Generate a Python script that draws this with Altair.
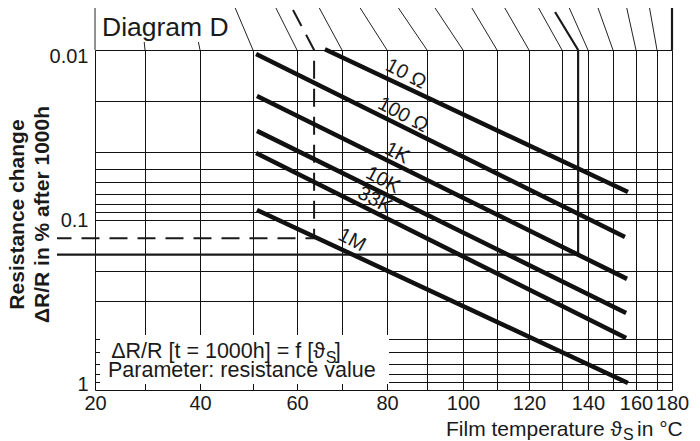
import altair as alt
import pandas as pd

FONT = "Liberation Sans"
INK = "#1a1a1a"
GRID = "#111"

# ---------------- data ----------------
x_grid = [20, 30, 40, 50, 60, 70, 80, 90, 100, 110, 120, 130, 140, 150, 160, 170, 180]
y_grid = [0.01, 0.02, 0.04, 0.05, 0.06, 0.07, 0.08, 0.09, 0.1,
          0.2, 0.3, 0.5, 0.6, 0.7, 0.8, 0.9, 1]

series = ["10 Ω", "100 Ω", "1K", "10K", "33K", "1M"]
t_start = [66.2, 50.7, 50.9, 50.9, 50.7, 50.9]
v_start = [0.0099, 0.01055, 0.01865, 0.0299, 0.0404, 0.0873]
t_end = [156.5, 155.2, 156.1, 155.7, 155.7, 156.5]
v_end = [0.0684, 0.126, 0.222, 0.352, 0.494, 0.909]
label_t = [84.75, 84.0, 82.5, 79.1, 77.3, 72.2]
label_v = [0.01384, 0.0241, 0.0404, 0.0582, 0.0763, 0.131]

# lines of the (cut off) diagram above: lower end on the frame, upper end
diag_t_low = [20, 30, 40, 50, 60, 70, 80, 90, 100, 110, 120, 130, 140, 150, 160, 170]
diag_t_high = [20, 29.0, 38.2, 46.0, 54.3, 64.0, 72.9, 81.5, 91.7, 102.1, 111.9, 122.4,
               132.3, 143.6, 155.7, 166.2]
diag_v_high = [0.00508] * 8 + [0.00544] * 8

# construction lines
dash_t = [59.1, 63.8, 63.8, 12.4]
dash_v = [0.00582, 0.01, 0.128, 0.128]
solid_t = [127.9, 136.2, 136.2, 12.4]
solid_v = [0.00598, 0.01, 0.16, 0.16]

# ---------------- frames ----------------
lines_df = pd.DataFrame({"name": series, "t0": t_start, "v0": v_start,
                         "t1": t_end, "v1": v_end})
labels_df = pd.DataFrame({"name": series, "t": label_t, "v": label_v})
diag_df = pd.DataFrame({"t0": diag_t_low, "v0": [0.01] * len(diag_t_low),
                        "t1": diag_t_high, "v1": diag_v_high})
right_df = pd.DataFrame({"t0": [180], "v0": [0.01], "t1": [180], "v1": [0.00508]})
dash_df = pd.DataFrame({"i": range(len(dash_t)), "t": dash_t, "v": dash_v})
solid_df = pd.DataFrame({"i": range(len(solid_t)), "t": solid_t, "v": solid_v})
boxes_df = pd.DataFrame({"t0": [20.2, 21.0], "t1": [46.5, 80.5],
                         "v0": [0.00566, 0.475], "v1": [0.00897, 0.922]})

xs = alt.Scale(domain=x_grid,
               range=[0, 50, 105, 158, 202, 247, 292, 332, 368, 402, 434, 467, 493,
                      518, 541, 562, 577],
               nice=False, zero=False)
ys = alt.Scale(type="log", domain=[0.01, 1], range=[0, 340], nice=False)

x_axis = alt.Axis(values=x_grid, labelExpr="datum.value % 20 == 0 ? datum.label : ''",
                  grid=True, gridColor=GRID, gridWidth=1, ticks=False, domain=False,
                  title=None, labelFont=FONT, labelFontSize=20, labelColor=INK,
                  labelPadding=3, labelFlush=False, labelOverlap=False)
y_axis = alt.Axis(values=y_grid, format="~g",
                  labelExpr="datum.value == 0.01 || datum.value == 0.1 || datum.value == 1 ? datum.label : ''",
                  grid=True, gridColor=GRID, gridWidth=1, ticks=False, domain=False,
                  labelFont=FONT, labelFontSize=20, labelColor=INK, labelPadding=7,
                  labelFlush=True, labelFlushOffset=4, labelOverlap=False,
                  title=["Resistance change", "ΔR/R in % after 1000h"],
                  titleFont=FONT, titleFontSize=21, titleFontWeight="bold",
                  titleColor=INK, titleLineHeight=25, titleAngle=270,
                  titleX=-89, titleY=164, titleAlign="center", titleBaseline="top")


def X(f):
    return alt.X(f, type="quantitative", scale=xs, axis=x_axis)


def Y(f):
    return alt.Y(f, type="quantitative", scale=ys, axis=y_axis)


diag = alt.Chart(diag_df).mark_rule(color="#222", strokeWidth=1).encode(
    x=X("t0"), y=Y("v0"), x2="t1", y2="v1")
right = alt.Chart(right_df).mark_rule(color=INK, strokeWidth=2.2).encode(
    x=X("t0"), y=Y("v0"), x2="t1", y2="v1")
boxes = alt.Chart(boxes_df).mark_rect(color="white").encode(
    x=X("t0"), x2="t1", y=Y("v0"), y2="v1")
dash = alt.Chart(dash_df).mark_line(color=INK, strokeWidth=2, strokeDash=[18, 10]).encode(
    x=X("t"), y=Y("v"), order="i:O")
solid = alt.Chart(solid_df).mark_line(color=INK, strokeWidth=2.2).encode(
    x=X("t"), y=Y("v"), order="i:O")
res = alt.Chart(lines_df).mark_rule(color="#111", strokeWidth=4.5).encode(
    x=X("t0"), y=Y("v0"), x2="t1", y2="v1")
labs = alt.Chart(labels_df).mark_text(font=FONT, fontSize=20, angle=28, color=INK,
                                      align="center", baseline="middle").encode(
    x=X("t"), y=Y("v"), text="name:N")

# text box inside the plot
box_text = pd.DataFrame({
    "txt": ["ΔR/R [t = 1000h] = f [ϑ", "]", "Parameter: resistance value"],
    "t": [66.2, 68.4, 22.6], "v": [0.649, 0.649, 0.839]})
bt_right = alt.Chart(box_text.iloc[[0]]).mark_text(
    font=FONT, fontSize=21.5, color=INK, align="right", baseline="alphabetic").encode(
    x=X("t"), y=Y("v"), text="txt:N")
bt_left = alt.Chart(box_text.iloc[[1, 2]]).mark_text(
    font=FONT, fontSize=21.5, color=INK, align="left", baseline="alphabetic").encode(
    x=X("t"), y=Y("v"), text="txt:N")
sub_df = pd.DataFrame({"txt": ["S"], "t": [66.4], "v": [0.694]})
bt_sub = alt.Chart(sub_df).mark_text(
    font=FONT, fontSize=16, color=INK, align="left", baseline="alphabetic").encode(
    x=X("t"), y=Y("v"), text="txt:N")

# titles
diag_title = alt.Chart(pd.DataFrame({"txt": ["Diagram D"]})).mark_text(
    font=FONT, fontSize=26.5, color=INK, align="left", baseline="alphabetic").encode(
    x=alt.value(7), y=alt.value(-14), text="txt:N")
xt1 = alt.Chart(pd.DataFrame({"txt": ["Film temperature ϑ"]})).mark_text(
    font=FONT, fontSize=21, color=INK, align="right", baseline="alphabetic").encode(
    x=alt.value(527), y=alt.value(386), text="txt:N")
xt2 = alt.Chart(pd.DataFrame({"txt": ["S"]})).mark_text(
    font=FONT, fontSize=16, color=INK, align="left", baseline="alphabetic").encode(
    x=alt.value(528), y=alt.value(389.5), text="txt:N")
xt3 = alt.Chart(pd.DataFrame({"txt": ["in °C"]})).mark_text(
    font=FONT, fontSize=21, color=INK, align="left", baseline="alphabetic").encode(
    x=alt.value(542), y=alt.value(386), text="txt:N")

chart = alt.layer(
    diag, right, boxes, dash, solid, res, labs,
    bt_right, bt_left, bt_sub, diag_title, xt1, xt2, xt3
).properties(
    width=577, height=340,
    autosize=alt.AutoSizeParams(type="none"),
    padding={"left": 87, "top": 42, "right": 20, "bottom": 51},
).configure_view(stroke=INK, strokeWidth=2).configure(background="white")

chart.save("out.html", embed_options={"renderer": "svg", "actions": False})
